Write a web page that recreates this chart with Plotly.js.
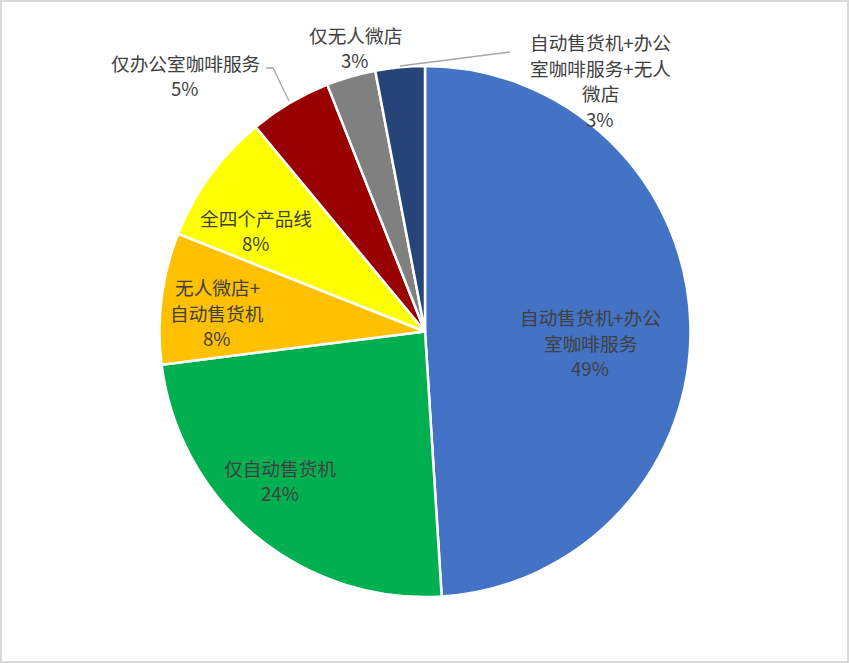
<!DOCTYPE html>
<html>
<head>
<meta charset="utf-8">
<script src="https://cdn.plot.ly/plotly-3.0.1.min.js"></script>
<style>
  html, body { margin: 0; padding: 0; background: #fff; }
  #chart { width: 849px; height: 663px; }
</style>
</head>
<body>
<div id="chart"></div>
<script>
'use strict';

// product line combinations, clockwise from 12 o'clock
var categories = ['自动售货机+办公室咖啡服务', '仅自动售货机', '无人微店+自动售货机', '全四个产品线',
	'仅办公室咖啡服务', '仅无人微店', '自动售货机+办公室咖啡服务+无人微店'];
var shares = [49, 24, 8, 8, 5, 3, 3];
// wrapped the way the labels show in the picture
var labelLines = ['自动售货机+办公<br>室咖啡服务', '仅自动售货机', '无人微店+<br>自动售货机', '全四个产品线',
	'仅办公室咖啡服务', '仅无人微店', '自动售货机+办公<br>室咖啡服务+无人<br>微店'];
var sliceColors = ['#4472C4', '#00B050', '#FFC000', '#FFFF00', '#990000', '#808080', '#264478'];

var W = 849, H = 663;
function px(x) { return x / W; }
function py(y) { return 1 - y / H; }

// pie centre and radius in pixels
var cx = 425, cy = 331.5, r = 265.5;

// where each label block sits (pixel centre)
var labelPos = [[590, 342], [280, 480], [217, 312], [256, 230], [185, 75], [355, 47], [600, 80]];
var lineGap = 25.5;

var total = shares.reduce(function (a, b) { return a + b; }, 0);

var data = [{
	type: 'pie',
	labels: categories,
	values: shares,
	sort: false,
	direction: 'clockwise',
	rotation: 0,
	textinfo: 'none',
	hoverinfo: 'label+percent',
	marker: { colors: sliceColors, line: { color: '#ffffff', width: 2.5 } },
	domain: { x: [px(cx - r), px(cx + r)], y: [py(cy + r), py(cy - r)] },
	showlegend: false
}];

// one annotation per text line so the line spacing can match
var annotations = [];
categories.forEach(function (c, i) {
	var lines = labelLines[i].split('<br>');
	lines.push(Math.round(shares[i] / total * 100) + '%');
	lines.forEach(function (t, k) {
		annotations.push({
			xref: 'paper', yref: 'paper',
			x: px(labelPos[i][0]),
			y: py(labelPos[i][1] + (k - (lines.length - 1) / 2) * lineGap),
			xanchor: 'center', yanchor: 'middle',
			showarrow: false,
			text: t,
			font: { family: '"Noto Sans CJK SC", "Noto Sans", sans-serif', size: 18.67, color: '#404040' }
		});
	});
});

var shapes = [
	// outer frame
	{ type: 'rect', xref: 'paper', yref: 'paper', x0: px(1), x1: px(848), y0: py(662), y1: py(1),
		line: { color: '#d9d9d9', width: 2 } },
	// leader lines
	{ type: 'path', xref: 'paper', yref: 'paper',
		path: 'M' + px(266) + ',' + py(68) + ' L' + px(273) + ',' + py(68) + ' L' + px(289) + ',' + py(101),
		line: { color: '#a6a6a6', width: 1.3 } },
	{ type: 'path', xref: 'paper', yref: 'paper',
		path: 'M' + px(400) + ',' + py(66) + ' L' + px(510) + ',' + py(52),
		line: { color: '#a6a6a6', width: 1.3 } }
];

var layout = {
	width: W,
	height: H,
	margin: { l: 0, r: 0, t: 0, b: 0 },
	paper_bgcolor: '#ffffff',
	annotations: annotations,
	shapes: shapes
};

Plotly.newPlot('chart', data, layout, { displayModeBar: false, staticPlot: true });
</script>
</body>
</html>
